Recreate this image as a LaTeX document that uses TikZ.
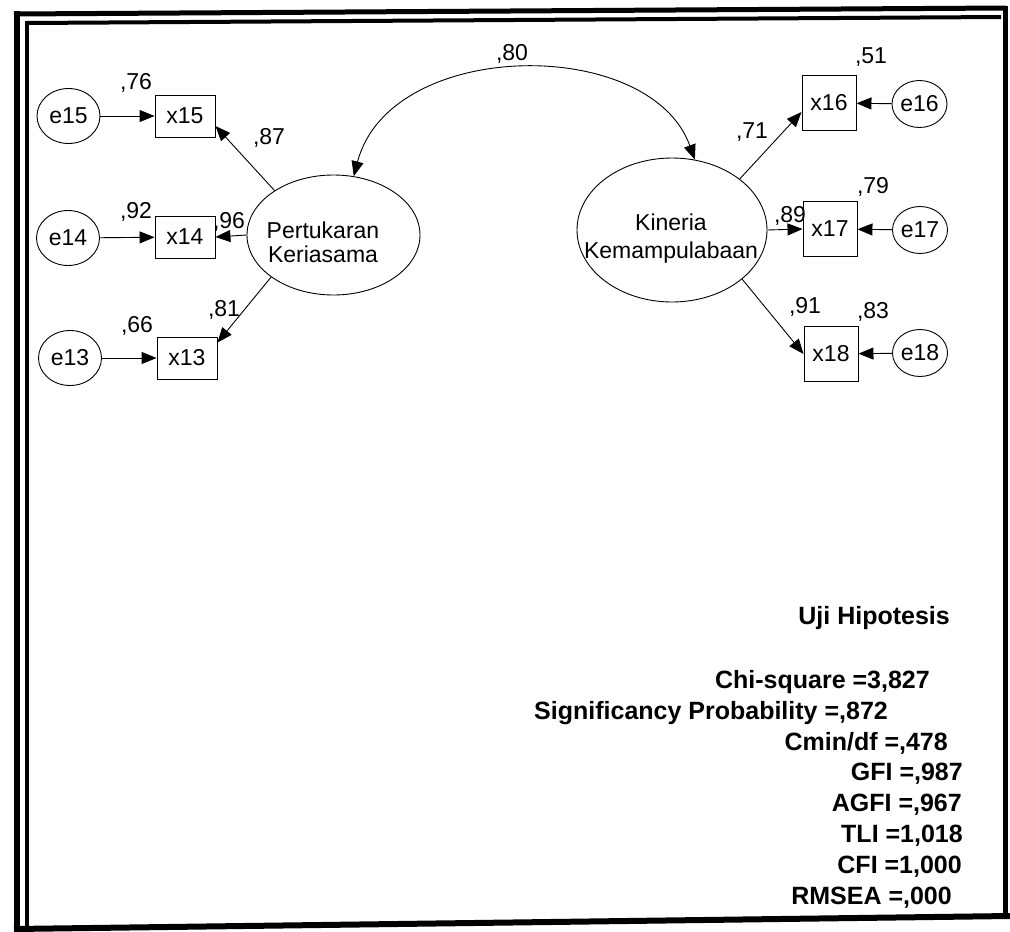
\documentclass[tikz,border=0pt]{standalone}
\usepackage{fontspec}
\setmainfont{Liberation Sans}
\usetikzlibrary{shapes.geometric,arrows.meta}
\begin{document}
\begin{tikzpicture}[x=1pt,y=-1pt,
  lbl/.style={font=\fontsize{23}{24}\selectfont, inner sep=0pt},
  err/.style={draw, ellipse, line width=0.9pt, minimum width=63pt, minimum height=55pt, inner sep=0pt, font=\fontsize{23}{24}\selectfont},
  errs/.style={err, minimum width=55pt, minimum height=47pt},
  obs/.style={draw, rectangle, line width=0.9pt, minimum width=60pt, minimum height=42pt, inner sep=0pt, font=\fontsize{23}{24}\selectfont},
  obsq/.style={obs, minimum width=54pt, minimum height=55pt},
  lat/.style={draw, ellipse, line width=0.9pt, inner sep=0pt},
  arr/.style={-{Triangle[length=15pt,width=12pt]}, line width=0.9pt},
  darr/.style={{Triangle[length=15pt,width=12pt]}-{Triangle[length=15pt,width=12pt]}, line width=0.9pt},
  fitt/.style={font=\bfseries\fontsize{25}{26}\selectfont, anchor=base east, inner sep=0pt},
]
\useasboundingbox (0,0) rectangle (1010,932);
% frame
\draw[line width=5pt] (14,14) -- (1006,8);
\draw[line width=4pt] (27,23) -- (1001,17);
\draw[line width=6pt] (17,11) -- (17,932);
\draw[line width=4pt] (27,21) -- (27,927);
\draw[line width=5pt] (1005,6) -- (1005,918);
\draw[line width=6pt] (14,929) -- (1010,916);

% latent variables
\node[lat, minimum width=173pt, minimum height=120pt] (P) at (333.5,235) {};
\node[lbl, align=center] (Pt) at (323,242) {Pertukaran\\Keriasama};
\node[lat, minimum width=190pt, minimum height=144pt] (K) at (672,230) {};
\node[lbl, align=center, font=\fontsize{23}{28}\selectfont] (Kt) at (671,239) {Kineria\\Kemampulabaan};

% left indicators
\node[err] (e15) at (68.5,116) {e15};
\node[err] (e14) at (68,238) {e14};
\node[err] (e13) at (70,358) {e13};
\node[obs] (x15) at (185,116) {x15};
\node[obs] (x14) at (185,237) {x14};
\node[obs] (x13) at (187,358) {x13};

% right indicators
\node[obsq] (x16) at (829,103) {x16};
\node[obsq] (x17) at (830,229) {x17};
\node[obsq] (x18) at (831,354) {x18};
\node[errs] (e16) at (919.5,104) {e16};
\node[errs] (e17) at (920,230) {e17};
\node[errs] (e18) at (920,353) {e18};

% error arrows
\draw[arr] (e15) -- (x15);
\draw[arr] (e14) -- (x14);
\draw[arr] (e13) -- (x13);
\draw[arr] (e16) -- (x16);
\draw[arr] (e17) -- (x17);
\draw[arr] (e18) -- (x18);

% loadings
\draw[arr] (P.143) -- ([yshift=-10pt]x15.east);
\draw[arr] (P.west) -- (x14.east);
\draw[arr] (P.214) -- ([yshift=-6pt]x13.north east);
\draw[arr] (K.37) -- ([yshift=-9pt]x16.west);
\draw[arr] (K.east) -- (x17.west);
\draw[arr] (K.-35) -- (x18.west);

% covariance
\draw[darr] (P.71) .. controls (390,38) and (650,35) .. (K.72);

% coefficient labels
\node[lbl] (l76) at (136,83) {,76};
\node[lbl] (l87) at (269,138) {,87};
\node[lbl] (l92) at (136,212) {,92};
\node[lbl] (l96) at (229,222) {,96};
\node[lbl] (l66) at (137,326) {,66};
\node[lbl] (l81) at (224,310) {,81};
\node[lbl] (l80) at (512,54) {,80};
\node[lbl] (l51) at (871,57) {,51};
\node[lbl] (l71) at (752,132) {,71};
\node[lbl] (l79) at (873,187) {,79};
\node[lbl] (l89) at (790,216) {,89};
\node[lbl] (l91) at (805,307) {,91};
\node[lbl] (l83) at (873,312) {,83};

% fit statistics
\node[fitt] (uji) at (950,624) {Uji Hipotesis};
\node[fitt] (chi) at (930,688) {Chi-square =3,827};
\node[fitt] (sig) at (888,719) {Significancy Probability =,872};
\node[fitt] (cmin) at (948,750) {Cmin/df =,478};
\node[fitt] (gfi) at (963,780) {GFI =,987};
\node[fitt] (agfi) at (962,811) {AGFI =,967};
\node[fitt] (tli) at (963,842) {TLI =1,018};
\node[fitt] (cfi) at (962,873) {CFI =1,000};
\node[fitt] (rmsea) at (952,904) {RMSEA =,000};
\end{tikzpicture}
\end{document}
